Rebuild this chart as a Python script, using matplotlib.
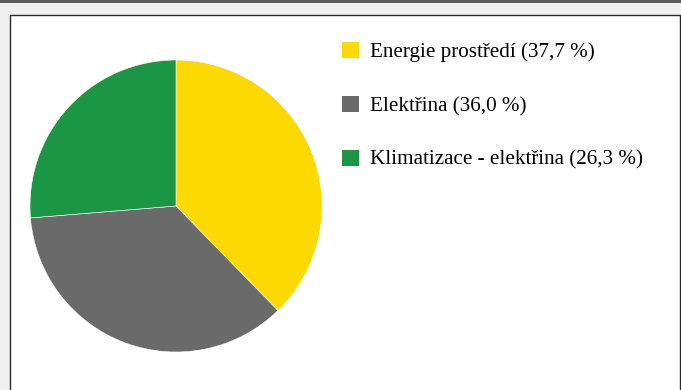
import matplotlib.pyplot as plt
from matplotlib.patches import Rectangle

labels = ['Energie prostředí (37,7 %)', 'Elektřina (36,0 %)', 'Klimatizace - elektřina (26,3 %)']
values = [37.7, 36.0, 26.3]
colors = ['#fcd900', '#6a6a6a', '#1a9645']

W, H = 681, 390
fig = plt.figure(figsize=(W / 100, H / 100), dpi=100, facecolor='#f0f0f0')

# top dark strip and white panel
fig.patches.append(Rectangle((0, 1 - 3 / H), 1, 3 / H, transform=fig.transFigure,
                             facecolor='#5c5c5c', edgecolor='none', zorder=-2))
fig.patches.append(Rectangle((9.5 / W, -0.05), (670.5 / W), (1 - 14.5 / H) + 0.05,
                             transform=fig.transFigure, facecolor='white',
                             edgecolor='#2a2a2a', linewidth=1.0, zorder=-2))

# pie: centre (176, 206), radius 146 px
ax = fig.add_axes([30 / W, (H - 352) / H, 292 / W, 292 / H])
ax.set_zorder(1)
wedges, _ = ax.pie(values, colors=colors, startangle=90, counterclock=False,
                   radius=1, wedgeprops=dict(linewidth=0.4, edgecolor='white'))
ax.set_xlim(-1, 1)
ax.set_ylim(-1, 1)
ax.set_aspect('equal')
ax.axis('off')

leg = fig.legend(wedges, labels, loc='upper left', bbox_to_anchor=(342 / W, 1 - 42 / H),
                 frameon=False, prop=dict(family='Liberation Serif', size=15.2),
                 handlelength=0.8, handleheight=0.8, handletextpad=0.55,
                 labelspacing=1.58, borderpad=0, borderaxespad=0)
leg.set_zorder(2)
for h in leg.legend_handles:
    h.set_linewidth(0)

fig.savefig('out.png', dpi=100, facecolor=fig.get_facecolor())
